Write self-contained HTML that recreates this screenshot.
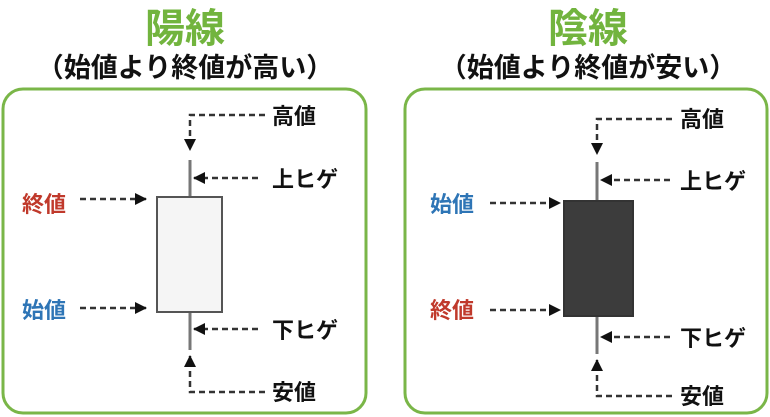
<!DOCTYPE html><html><head><meta charset="utf-8"><style>body{margin:0;background:#fff}svg{display:block}text{font-family:"Liberation Sans","Noto Sans CJK JP",sans-serif}</style></head><body>
<svg width="770" height="417" viewBox="0 0 770 417" xmlns="http://www.w3.org/2000/svg">
<defs><marker id="a" markerWidth="12" markerHeight="12" refX="11" refY="6" orient="auto" markerUnits="userSpaceOnUse"><path d="M0,0L12,6L0,12z" fill="#111"/></marker></defs>
<g font-weight="bold" text-anchor="middle">
<text x="185" y="42" font-size="40" fill="#72b43e">陽線</text>
<text x="185" y="77" font-size="27" fill="#111">（始値より終値が高い）</text>
<text x="588" y="42" font-size="40" fill="#72b43e">陰線</text>
<text x="588" y="77" font-size="27" fill="#111">（始値より終値が安い）</text>
</g>
<rect x="3" y="89" width="363" height="324" rx="20" fill="none" stroke="#7ab648" stroke-width="3"/>
<rect x="405" y="89" width="362" height="324" rx="20" fill="none" stroke="#7ab648" stroke-width="3"/>
<g stroke="#333" stroke-width="2.5" stroke-dasharray="6,4" fill="none">
<path d="M265,115H190V150" marker-end="url(#a)"/>
<path d="M258,178H194" marker-end="url(#a)"/>
<path d="M80,199H146" marker-end="url(#a)"/>
<path d="M80,308H146" marker-end="url(#a)"/>
<path d="M258,329H194" marker-end="url(#a)"/>
<path d="M265,392H190V356" marker-end="url(#a)"/>
<path d="M672,119H597V154" marker-end="url(#a)"/>
<path d="M670,180H601" marker-end="url(#a)"/>
<path d="M490,203H560" marker-end="url(#a)"/>
<path d="M490,310H560" marker-end="url(#a)"/>
<path d="M670,337H601" marker-end="url(#a)"/>
<path d="M672,396H597V360" marker-end="url(#a)"/>
</g>
<g stroke="#777" stroke-width="3">
<line x1="190" y1="160" x2="190" y2="196"/><line x1="190" y1="312" x2="190" y2="350"/>
<line x1="597" y1="162" x2="597" y2="201"/><line x1="597" y1="316" x2="597" y2="354"/>
</g>
<rect x="157" y="197" width="65" height="115" fill="#f5f5f5" stroke="#555" stroke-width="2"/>
<rect x="564" y="201" width="69" height="115" fill="#3c3c3c" stroke="#333" stroke-width="2"/>
<g font-size="22" fill="#111" font-weight="bold">
<text x="272" y="124">高値</text><text x="272" y="187">上ヒゲ</text><text x="272" y="338">下ヒゲ</text><text x="272" y="400">安値</text>
<text x="22" y="212" fill="#c0392b">終値</text><text x="22" y="318" fill="#2e75b6">始値</text>
<text x="680" y="127">高値</text><text x="680" y="189">上ヒゲ</text><text x="680" y="346">下ヒゲ</text><text x="680" y="404">安値</text>
<text x="430" y="212" fill="#2e75b6">始値</text><text x="430" y="318" fill="#c0392b">終値</text>
</g>
</svg></body></html>
